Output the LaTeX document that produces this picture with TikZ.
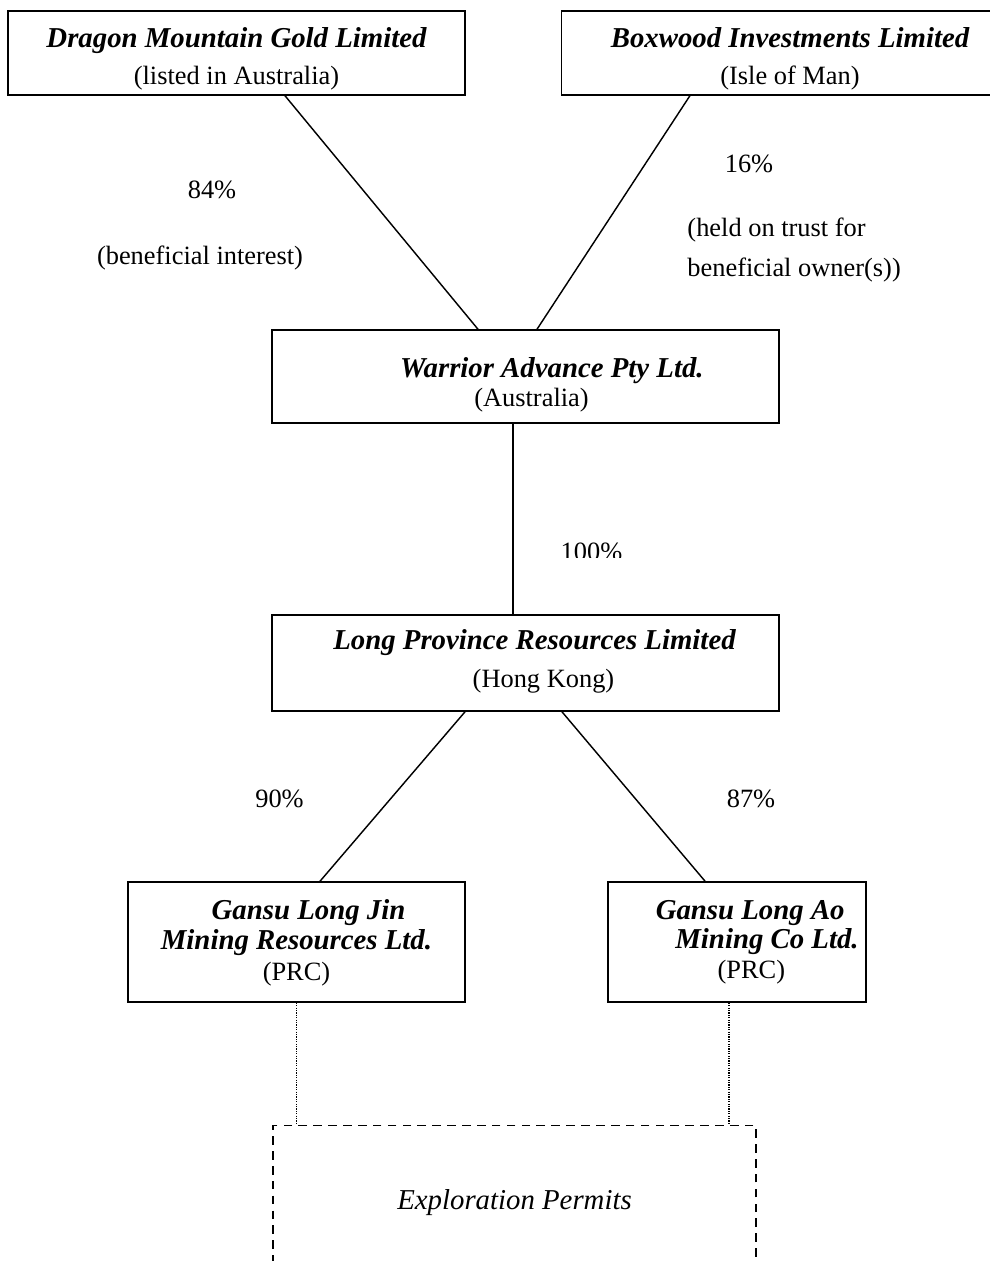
\documentclass[tikz,border=0pt]{standalone}
\usepackage{fontspec}
\setmainfont{Liberation Serif}
\usetikzlibrary{positioning}
\newcommand{\firm}[1]{{\fontsize{12}{13}\selectfont\bfseries\itshape #1}}
\newcommand{\padtop}[1]{\rule{0pt}{#1}}
\newcommand{\padbot}[1]{\rule[-#1]{0pt}{#1}}

\begin{document}
\begin{tikzpicture}
  [
    x=0.41667pt, y=-0.41667pt,
    Entity/.style={draw, line width=0.6pt, inner sep=0pt, align=center, font=\fontsize{11}{13}\selectfont},
    Permit/.style={draw, line width=0.6pt, dash pattern=on 3.6pt off 2.6pt, inner sep=0pt, font=\fontsize{12}{14}\selectfont\itshape},
    Share/.style={inner sep=0pt, anchor=base, font=\fontsize{11}{13}\selectfont},
    Link/.style={draw, line width=0.6pt},
    Dots/.style={draw, line width=0.6pt, dash pattern=on 0.5pt off 0.5pt}
  ]
  \useasboundingbox (0,0) rectangle (990,1261);
  \clip (0,0) rectangle (990,1261);
  % Nodes
  \node[Entity, minimum width=190.4pt] (dmg) at (236.5,53)
    {\padtop{15.4pt}\firm{Dragon Mountain Gold Limited}\\[2.2pt](listed in Australia)\padbot{4.4pt}};
  \node[Entity, minimum width=190.4pt] (bil) at (790,53)
    {\padtop{15.4pt}\firm{Boxwood Investments Limited}\\[2.2pt](Isle of Man)\padbot{4.4pt}};
  \node[Entity, minimum width=211.3pt] (war) at (525.5,376.5)
    {\padtop{20pt}\hspace*{22pt}\firm{Warrior Advance Pty Ltd.}\\[-1.3pt]\hspace*{5pt}(Australia)\padbot{7.1pt}};
  \node[Entity, minimum width=211.3pt] (lpr) at (525.5,663)
    {\padtop{14.2pt}\hspace*{7.5pt}\firm{Long Province Resources Limited}\\[3.2pt]\hspace*{15pt}(Hong Kong)\padbot{9.65pt}};
  \node[Entity, minimum width=140.4pt] (ljin) at (296.5,942)
    {\padtop{15.8pt}\hspace*{10pt}\firm{Gansu Long Jin}\\[-0.7pt]\firm{Mining Resources Ltd.}\\[0pt](PRC)\padbot{8.95pt}};
  \node[Entity, minimum width=107.5pt] (lao) at (737,942)
    {\padtop{15.8pt}\hspace*{11pt}\firm{Gansu Long Ao}\\[-1.1pt]\hspace*{25pt}\firm{Mining Co Ltd.}\\[-0.3pt]\hspace*{12pt}(PRC)\padbot{9.65pt}};
  \node[Permit, minimum width=201.3pt, minimum height=64.2pt] (permits) at (514.5,1202.6) {Exploration Permits};
  % Shares
  \node[Share] (p84) at (212,198) {84\%};
  \node[Share] (benef) at (200,264) {(beneficial interest)};
  \node[Share] (p16) at (749,172) {16\%};
  \node[Share, anchor=north west, align=left] (trust) at (687,217) {(held on trust for\\[4pt]beneficial owner(s))};
  \begin{scope}
    \clip (540,520) rectangle (650,557);
    \node[Share] (p100) at (591.5,560.5) {100\%};
  \end{scope}
  \node[Share] (p90) at (279.5,807) {90\%};
  \node[Share] (p87) at (751,807) {87\%};
  % Lines
  \path [Link] ([xshift=20.2pt]dmg.south) -- ([xshift=-19.8pt]war.north);
  \path [Link] ([xshift=-41.7pt]bil.south) -- ([xshift=4.8pt]war.north);
  \path [Link] ([xshift=-5.2pt]war.south) -- ([xshift=-5.2pt]lpr.north);
  \path [Link] ([xshift=-25.2pt]lpr.south) -- ([xshift=9.8pt]ljin.north);
  \path [Link] ([xshift=15.2pt]lpr.south) -- ([xshift=-13.3pt]lao.north);
  \path [Dots] (ljin.south) -- (ljin.south |- permits.north);
  \path [Dots] ([xshift=-3.3pt]lao.south) -- ([xshift=-3.3pt]lao.south |- permits.north);
\end{tikzpicture}
\end{document}
